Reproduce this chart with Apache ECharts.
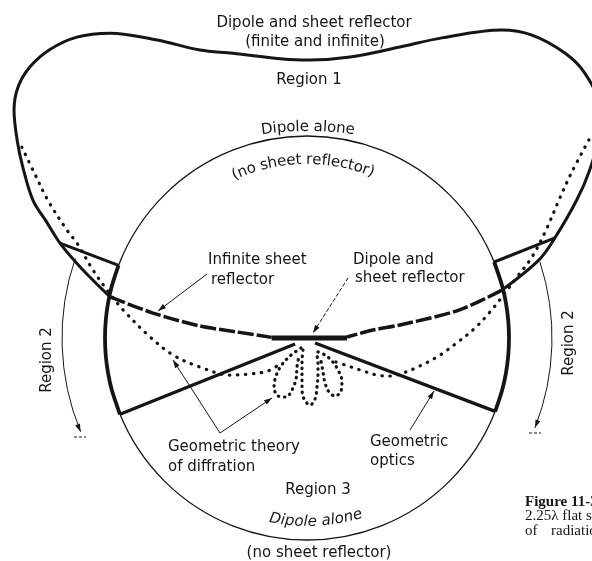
<!DOCTYPE html>
<html>
<head>
<meta charset="utf-8">
<style>
  html, body, #main { margin: 0; width: 592px; height: 561px; background: #fff; }
</style>
<script src="https://cdn.jsdelivr.net/npm/echarts@6/dist/echarts.min.js"></script>
</head>
<body>
<div id="main"></div>
<script>
// H-plane patterns in polar form: [relative field, angle in degrees]
// angle 0 = right, counter-clockwise. 1.0 = dipole alone (the circle).

// dipole + sheet reflector, regions 1 and 2 (heavy solid)
const sheetPattern = [
  [0.996, 168.2], [1.177, 162.6], [1.31, 159.0], [1.407, 156.1], [1.519, 153.3],
  [1.641, 149.0], [1.737, 145.7], [1.838, 142.1], [1.895, 139.0], [1.919, 135.6],
  [1.913, 131.7], [1.875, 127.4], [1.797, 122.9], [1.651, 116.7], [1.521, 110.4],
  [1.457, 104.6], [1.386, 94.9], [1.376, 89.4], [1.407, 81.3], [1.512, 72.3],
  [1.629, 65.8], [1.804, 57.7], [1.868, 53.4], [1.903, 47.8], [1.90, 43.6],
  [1.85, 39.0], [1.73, 34.0], [1.62, 30.5], [1.50, 27.1], [1.324, 22.0],
  [1.212, 18.6], [0.994, 13.8]
];
// infinite sheet, inside the circle (heavy dashed)
const infiniteLeft = [[0.996, 168.2], [0.772, 170.8], [0.533, 173.6], [0.348, 175.1], [0.175, 179.0]];
const infiniteRight = [[0.994, 13.8], [0.765, 10.4], [0.465, 8.0], [0.329, 6.9], [0.198, 1.4]];
// finite sheet by geometric theory of diffraction (dotted)
const gtdLeft = [
  [1.699, 146.2], [1.591, 148.5], [1.453, 152.0], [1.303, 155.8], [1.232, 157.6],
  [1.111, 162.4], [1.018, 166.5], [0.921, 171.3], [0.777, 179.6], [0.669, 187.2],
  [0.549, 195.2], [0.423, 205.7], [0.334, 212.3], [0.253, 220.2], [0.186, 223.9]
];
const gtdLobeLeft = [
  [0.058, 239.0], [0.123, 226.6], [0.189, 227.1], [0.243, 230.8], [0.292, 236.0],
  [0.321, 243.4], [0.310, 250.4], [0.268, 253.9], [0.210, 255.0], [0.152, 251.0], [0.098, 246.0]
];
const gtdLobeCenter = [
  [0.063, 251.6], [0.121, 258.2], [0.185, 262.3], [0.249, 264.3], [0.302, 267.2],
  [0.332, 272.6], [0.305, 277.5], [0.248, 281.5], [0.186, 287.0], [0.131, 294.6], [0.082, 302.7]
];
const gtdLobeRight = [
  [0.088, 308.2], [0.123, 316.6], [0.168, 317.4], [0.221, 314.1], [0.274, 309.1],
  [0.312, 302.7], [0.319, 295.8], [0.289, 292.2], [0.240, 291.8], [0.186, 295.2], [0.133, 301.3]
];
const gtdRight = [
  [0.186, 320.4], [0.246, 325.7], [0.306, 328.9], [0.392, 332.1], [0.452, 335.4],
  [0.506, 340.0], [0.576, 346.1], [0.664, 352.7], [0.748, 358.5], [0.833, 3.4],
  [0.915, 8.1], [0.987, 11.9], [1.083, 16.2], [1.184, 19.8], [1.298, 24.3],
  [1.422, 28.7], [1.548, 32.1], [1.706, 35.1]
];
// reflector and boundaries
const reflectorPlate = [[0.175, 180], [0.198, 0]];
const opticsLeft = [[0.066, 206.6], [1, 202.2]];
const opticsRight = [[0.047, 328], [1, 338.7]];
const shadowLeft = [[1, 158.9], [1.31, 159.0]];
const shadowRight = [[1, 22.1], [1.324, 22.0]];
const region2Left = [[1, 158.9], [1, 165], [1, 170], [1, 175], [1, 180], [1, 185], [1, 190], [1, 195], [1, 202.2]];
const region2Right = [[1, 338.7], [1, 345], [1, 350], [1, 355], [1, 0], [1, 5], [1, 10], [1, 15], [1, 22.1]];

const CX = 307, CY = 338, UNIT = 202;
const INK = '#151515';
const FONT = "15px 'DejaVu Sans'";
const SERIF = "15px 'Liberation Serif'";

const measureCtx = document.createElement('canvas').getContext('2d');
// text bent along an arc centred on (ox, oy)
function arcText(str, r, midDeg, font, below, ox, oy) {
  ox = ox === undefined ? CX : ox;
  oy = oy === undefined ? CY : oy;
  measureCtx.font = font;
  const chars = [...str];
  const widths = chars.map(ch => measureCtx.measureText(ch).width);
  const total = widths.reduce((a, b) => a + b, 0);
  const mid = midDeg * Math.PI / 180;
  let acc = 0;
  return chars.map((ch, i) => {
    const off = (acc + widths[i] / 2 - total / 2) / r;
    acc += widths[i];
    const a = below ? mid + off : mid - off;
    return {
      type: 'text', x: ox + r * Math.cos(a), y: oy - r * Math.sin(a),
      rotation: below ? a + Math.PI / 2 : a - Math.PI / 2,
      style: { text: ch, font, fill: INK, align: 'center', verticalAlign: 'middle' }
    };
  });
}
function label(text, x, y, align, font, rotation) {
  return {
    type: 'text', x, y, rotation: rotation || 0,
    style: { text, font: font || FONT, fill: INK, align: align || 'left', verticalAlign: 'middle' }
  };
}
function head(tx, ty, dx, dy) {
  const n = Math.hypot(dx, dy); dx /= n; dy /= n;
  const L = 8, w = 2.6, bx = tx - dx * L, by = ty - dy * L;
  return { type: 'polygon', shape: { points: [[tx, ty], [bx - dy * w, by + dx * w], [bx + dy * w, by - dx * w]] }, style: { fill: INK } };
}
function leader(points, dash) {
  return { type: 'polyline', shape: { points }, style: { stroke: INK, lineWidth: 1, fill: null, lineDash: dash || null } };
}
const rad = d => d * Math.PI / 180;

const line = (data, width, type, extra) => Object.assign({
  type: 'line', coordinateSystem: 'polar', polarIndex: 1, data,
  symbol: 'none', silent: true, animation: false,
  lineStyle: { color: INK, width, type: type || 'solid' }
}, extra || {});
const dotted = (data, gap) => {
  const s = line(data, 3.2, [0.5, gap], { smooth: 0.35 });
  s.lineStyle.cap = 'round';
  return s;
};

const chart = echarts.init(document.getElementById('main'), null, { renderer: 'canvas' });
chart.setOption({
  animation: false,
  backgroundColor: '#fff',
  polar: [
    { center: [CX, CY], radius: UNIT },
    { center: [CX, CY], radius: UNIT * 2 }
  ],
  angleAxis: [
    { polarIndex: 0, type: 'value', min: 0, max: 360, startAngle: 0, clockwise: false,
      axisLine: { show: true, lineStyle: { color: INK, width: 1.3 } },
      axisTick: { show: false }, axisLabel: { show: false }, splitLine: { show: false } },
    { polarIndex: 1, type: 'value', min: 0, max: 360, startAngle: 0, clockwise: false, show: false }
  ],
  radiusAxis: [
    { polarIndex: 0, min: 0, max: 1, show: false },
    { polarIndex: 1, min: 0, max: 2, show: false }
  ],
  series: [
    line(sheetPattern, 3, 'solid', { smooth: 0.35 }),
    line(infiniteLeft, 3.5, [16, 3], { smooth: 0.3 }),
    line(infiniteRight, 3.5, [16, 3], { smooth: 0.3 }),
    line(reflectorPlate, 5),
    line(opticsLeft, 3.3),
    line(opticsRight, 3.3),
    line(shadowLeft, 3),
    line(shadowRight, 3),
    line(region2Left, 3.8, 'solid', { smooth: 0.3 }),
    line(region2Right, 3.8, 'solid', { smooth: 0.3 }),
    dotted(gtdLeft, 7.5),
    dotted(gtdLobeLeft, 5.5),
    dotted(gtdLobeCenter, 5.5),
    dotted(gtdLobeRight, 5.5),
    dotted(gtdRight, 7.5)
  ],
  graphic: [
    label('Dipole and sheet reflector', 314, 23, 'center'),
    label('(finite and infinite)', 315, 42, 'center'),
    label('Region 1', 309, 80, 'center'),
    ...arcText('Dipole alone', 320, 90, FONT, false, 308, 447),
    ...arcText('(no sheet reflector)', 178, 91.3, FONT, false),
    label('Infinite sheet', 208, 260),
    label('reflector', 211, 280),
    label('Dipole and', 353, 260),
    label('sheet reflector', 355, 278),
    label('Geometric theory', 168, 447),
    label('of diffration', 168, 467),
    label('Geometric', 370, 442),
    label('optics', 370, 461),
    label('Region 3', 318, 490, 'center'),
    ...arcText('Dipole alone', 184, 272.8, "italic 15px 'DejaVu Sans'", true),
    label('(no sheet reflector)', 319, 553, 'center'),
    label('Region 2', 47, 360, 'center', FONT, Math.PI / 2),
    label('Region 2', 569, 343, 'center', FONT, Math.PI / 2),
    label('Figure 11-3', 525, 502, 'left', "bold " + SERIF),
    label('2.25\u03bb flat sheet', 525, 516, 'left', SERIF),
    label('of', 525, 531, 'left', SERIF),
    label('radiation', 551, 531, 'left', SERIF),
    // leaders
    leader([[207, 274], [158, 311]]), head(158, 311, -49, 37),
    leader([[348, 278], [313, 333]], [4, 2]), head(313, 333, -35, 55),
    leader([[173, 360], [220, 433], [272, 398]]), head(173, 360, -47, -73), head(272, 398, 52, -35),
    leader([[410, 430], [434, 391]]), head(434, 391, 24, -39),
    // region 2 arcs
    { type: 'arc', shape: { cx: CX, cy: CY, r: 245, startAngle: rad(157.5), endAngle: rad(199), clockwise: true },
      style: { stroke: INK, lineWidth: 1, fill: null } },
    { type: 'arc', shape: { cx: CX, cy: CY, r: 245, startAngle: rad(-18), endAngle: rad(21.5), clockwise: true },
      style: { stroke: INK, lineWidth: 1, fill: null } },
    head(80.6, 431.8, 0.383, 0.924),
    head(535, 427.8, -0.366, 0.93),
    leader([[74, 437], [86, 437]], [3, 2]),
    leader([[529, 433], [541, 433]], [3, 2])
  ]
});
</script>
</body>
</html>
